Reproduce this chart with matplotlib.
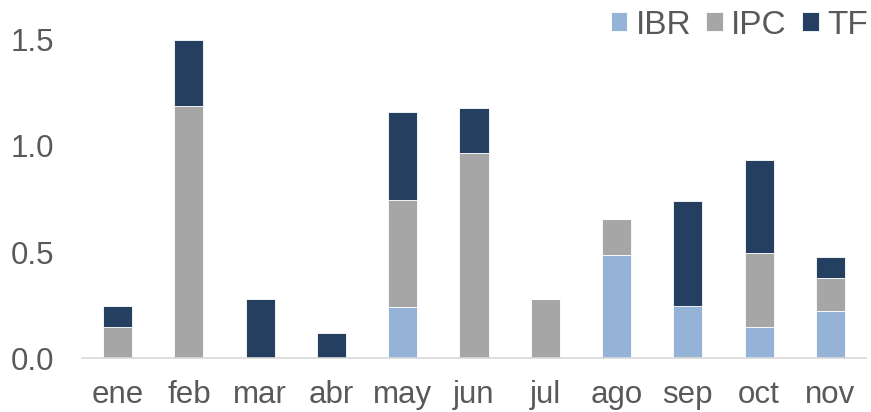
import numpy as np
import matplotlib
matplotlib.use("Agg")
import matplotlib.pyplot as plt

plt.rcParams['font.family'] = ['Liberation Sans', 'DejaVu Sans']

months = ["ene", "feb", "mar", "abr", "may", "jun", "jul", "ago", "sep", "oct", "nov"]
ibr = [0.0, 0.0, 0.0, 0.0, 0.24, 0.0, 0.0, 0.486, 0.245, 0.146, 0.222]
ipc = [0.146, 1.19, 0.0, 0.0, 0.505, 0.967, 0.28, 0.17, 0.0, 0.35, 0.155]
tf = [0.10, 0.31, 0.28, 0.12, 0.415, 0.213, 0.0, 0.0, 0.495, 0.44, 0.10]

colors = {"IBR": "#95B3D7", "IPC": "#A6A6A6", "TF": "#243F60"}
text_color = "#595959"

fig = plt.figure(figsize=(8.71, 4.12), dpi=100)
ax = fig.add_axes([0.0941, 0.131, 0.9002, 0.772])

x = np.arange(len(months))
w = 0.41
bottom = np.zeros(len(months))
for name, vals in [("IBR", ibr), ("IPC", ipc), ("TF", tf)]:
    vals = np.array(vals)
    ax.bar(x, vals, w, bottom=bottom, color=colors[name], label=name,
           edgecolor="white", linewidth=0.6)
    bottom += vals

ax.set_xlim(-0.5, len(months) - 0.5)
ax.set_ylim(0, 1.5)
ax.set_yticks([0.0, 0.5, 1.0, 1.5])
ax.set_yticklabels(["0.0", "0.5", "1.0", "1.5"])
ax.set_xticks(x)
ax.set_xticklabels(months)
ax.tick_params(axis="both", length=0, labelsize=22.5, colors=text_color)
ax.tick_params(axis="y", pad=20)
ax.tick_params(axis="x", pad=16)

for s in ["top", "right", "left"]:
    ax.spines[s].set_visible(False)
ax.spines["bottom"].set_color("#D9D9D9")
ax.spines["bottom"].set_linewidth(1.2)

leg = ax.legend(loc="upper right", bbox_to_anchor=(1.002, 1.095), ncol=3, frameon=False,
                fontsize=24, handlelength=0.5, handleheight=0.5, handletextpad=0.25,
                columnspacing=0.45, borderaxespad=0, borderpad=0)
for t in leg.get_texts():
    t.set_color(text_color)

fig.savefig("out.png", dpi=100)
